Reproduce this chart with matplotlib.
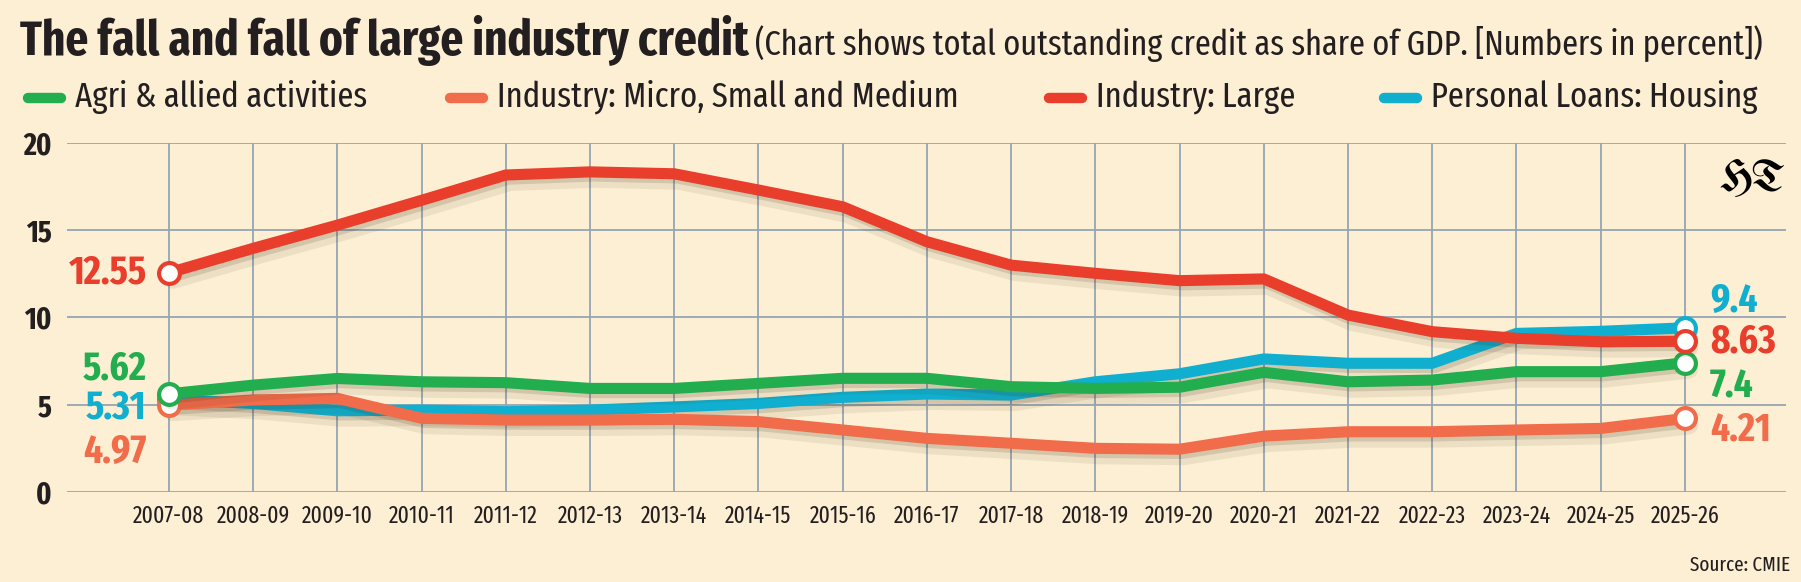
import matplotlib
matplotlib.use("Agg")
import matplotlib.pyplot as plt
import matplotlib.patheffects as pe
from matplotlib.lines import Line2D

# fiscal years on the x axis
years = ["2007-08", "2008-09", "2009-10", "2010-11", "2011-12", "2012-13",
         "2013-14", "2014-15", "2015-16", "2016-17", "2017-18", "2018-19",
         "2019-20", "2020-21", "2021-22", "2022-23", "2023-24", "2024-25", "2025-26"]

# credit as share of GDP (percent)
agri = [5.62, 6.12, 6.50, 6.31, 6.26, 5.93, 5.93, 6.22, 6.51, 6.51, 6.03, 5.93,
        6.00, 6.85, 6.31, 6.41, 6.89, 6.89, 7.40]
msme = [4.97, 5.27, 5.36, 4.22, 4.12, 4.12, 4.16, 4.03, 3.55, 3.07, 2.79, 2.50,
        2.45, 3.20, 3.45, 3.45, 3.55, 3.64, 4.21]
large = [12.55, 13.95, 15.28, 16.70, 18.15, 18.33, 18.22, 17.29, 16.33, 14.33,
         12.99, 12.52, 12.10, 12.20, 10.13, 9.18, 8.80, 8.60, 8.63]
housing = [5.31, 5.07, 4.65, 4.69, 4.60, 4.69, 4.87, 5.07, 5.42, 5.61, 5.55,
           6.31, 6.77, 7.62, 7.37, 7.37, 9.08, 9.20, 9.40]

series_names = ["Agri & allied activities", "Industry: Micro, Small and Medium",
                "Industry: Large", "Personal Loans: Housing"]
colors = ["#22ad4e", "#f06c4a", "#e83e2b", "#10afcf"]

BG = "#fdefd3"
GRID = "#95a5b2"
INK = "#231f20"
NARROW = ["Fira Sans Extra Condensed", "PT Sans Narrow", "DejaVu Sans"]

plt.rcParams["font.family"] = NARROW

W, H = 1801, 582
fig = plt.figure(figsize=(W / 100, H / 100), dpi=100, facecolor=BG)
renderer = fig.canvas.get_renderer()


def fx(px):
    return px / W


def fy(py):
    return 1 - py / H


def fit(texts, target):
    # scale font size so the combined width of the texts matches target pixels
    w = sum(t.get_window_extent(renderer).width for t in texts)
    for t in texts:
        t.set_fontsize(t.get_fontsize() * target / w)


ax = fig.add_axes([fx(67), fy(492), fx(1786) - fx(67), fy(142.7) - fy(492)])
ax.set_facecolor(BG)
x = list(range(len(years)))
ax.set_xlim(-1.21, 19.2)
ax.set_ylim(0, 20)
for s in ax.spines.values():
    s.set_visible(False)
ax.set_yticks([0, 5, 10, 15, 20])
ax.set_yticklabels(["0", "5", "10", "15", "20"], fontsize=22, fontweight="bold", color=INK)
ax.set_xticks(x)
ax.set_xticklabels(years, fontsize=17, color=INK)
ax.tick_params(axis="y", length=0, pad=11)
ax.tick_params(axis="x", length=0, pad=9)
ax.grid(True, color=GRID, linewidth=1.3)
ax.set_axisbelow(True)

data = [agri, msme, large, housing]
zorders = [4, 3, 5, 2]
shadow = [pe.SimpleLineShadow(offset=(3, -5), shadow_color="#3a2a10", alpha=0.08, linewidth=13),
          pe.SimpleLineShadow(offset=(2, -3), shadow_color="#3a2a10", alpha=0.14),
          pe.Normal()]
for vals, c, z in zip(data, colors, zorders):
    ax.plot(x, vals, color=c, linewidth=8, solid_joinstyle="round",
            solid_capstyle="round", zorder=z, path_effects=shadow)
    ax.plot([x[0], x[-1]], [vals[0], vals[-1]], linestyle="none", marker="o",
            markersize=15, markerfacecolor="white", markeredgecolor=c,
            markeredgewidth=3, zorder=z + 0.5, clip_on=False)

# end value labels (offsets in points)
lab_kw = dict(fontsize=29, fontweight="bold", textcoords="offset points",
              va="center", annotation_clip=False)
left_off = {0: (-16, 18), 1: (-16, -34), 2: (-16, 0), 3: (-16, -6)}
right_off = {0: (18, -17), 1: (18, -8), 2: (18, 0), 3: (18, 19)}
for i, (vals, c) in enumerate(zip(data, colors)):
    ax.annotate(f"{vals[0]:g}", (x[0], vals[0]), xytext=left_off[i], ha="right",
                color=c, zorder=10, **lab_kw)
    ax.annotate(f"{vals[-1]:g}", (x[-1], vals[-1]), xytext=right_off[i], ha="left",
                color=c, zorder=10, **lab_kw)

# title and subtitle
title = fig.text(fx(20), fy(55), "The fall and fall of large industry credit", fontsize=32,
                 fontweight="bold", color=INK, va="baseline")
sub = fig.text(fx(755), fy(55), "(Chart shows total outstanding credit as share of GDP. [Numbers in percent])",
               fontsize=22, color=INK, va="baseline")
fit([title], 729)
fit([sub], 1010)

# legend row
key_x = [23, 445, 1044, 1379]
legend_texts = []
for kx, name, c in zip(key_x, series_names, colors):
    fig.add_artist(Line2D([fx(kx + 5), fx(kx + 38)], [fy(98), fy(98)], color=c,
                          linewidth=7.5, solid_capstyle="round", transform=fig.transFigure))
    legend_texts.append(fig.text(fx(kx + 52), fy(107), name, fontsize=25, color=INK,
                                 va="baseline"))
fit(legend_texts, 292 + 462 + 201 + 320)

# HT mark and source
fig.text(fx(1786), fy(179), "HT", fontsize=32,
         family=["UnifrakturMaguntia", "UnifrakturCook", "Pirata One", "Liberation Serif"],
         color="black", ha="right", va="center")
fig.text(fx(1790), fy(565), "Source: CMIE", fontsize=15, color=INK, ha="right", va="center")

fig.savefig("out.png", dpi=100, facecolor=BG)
